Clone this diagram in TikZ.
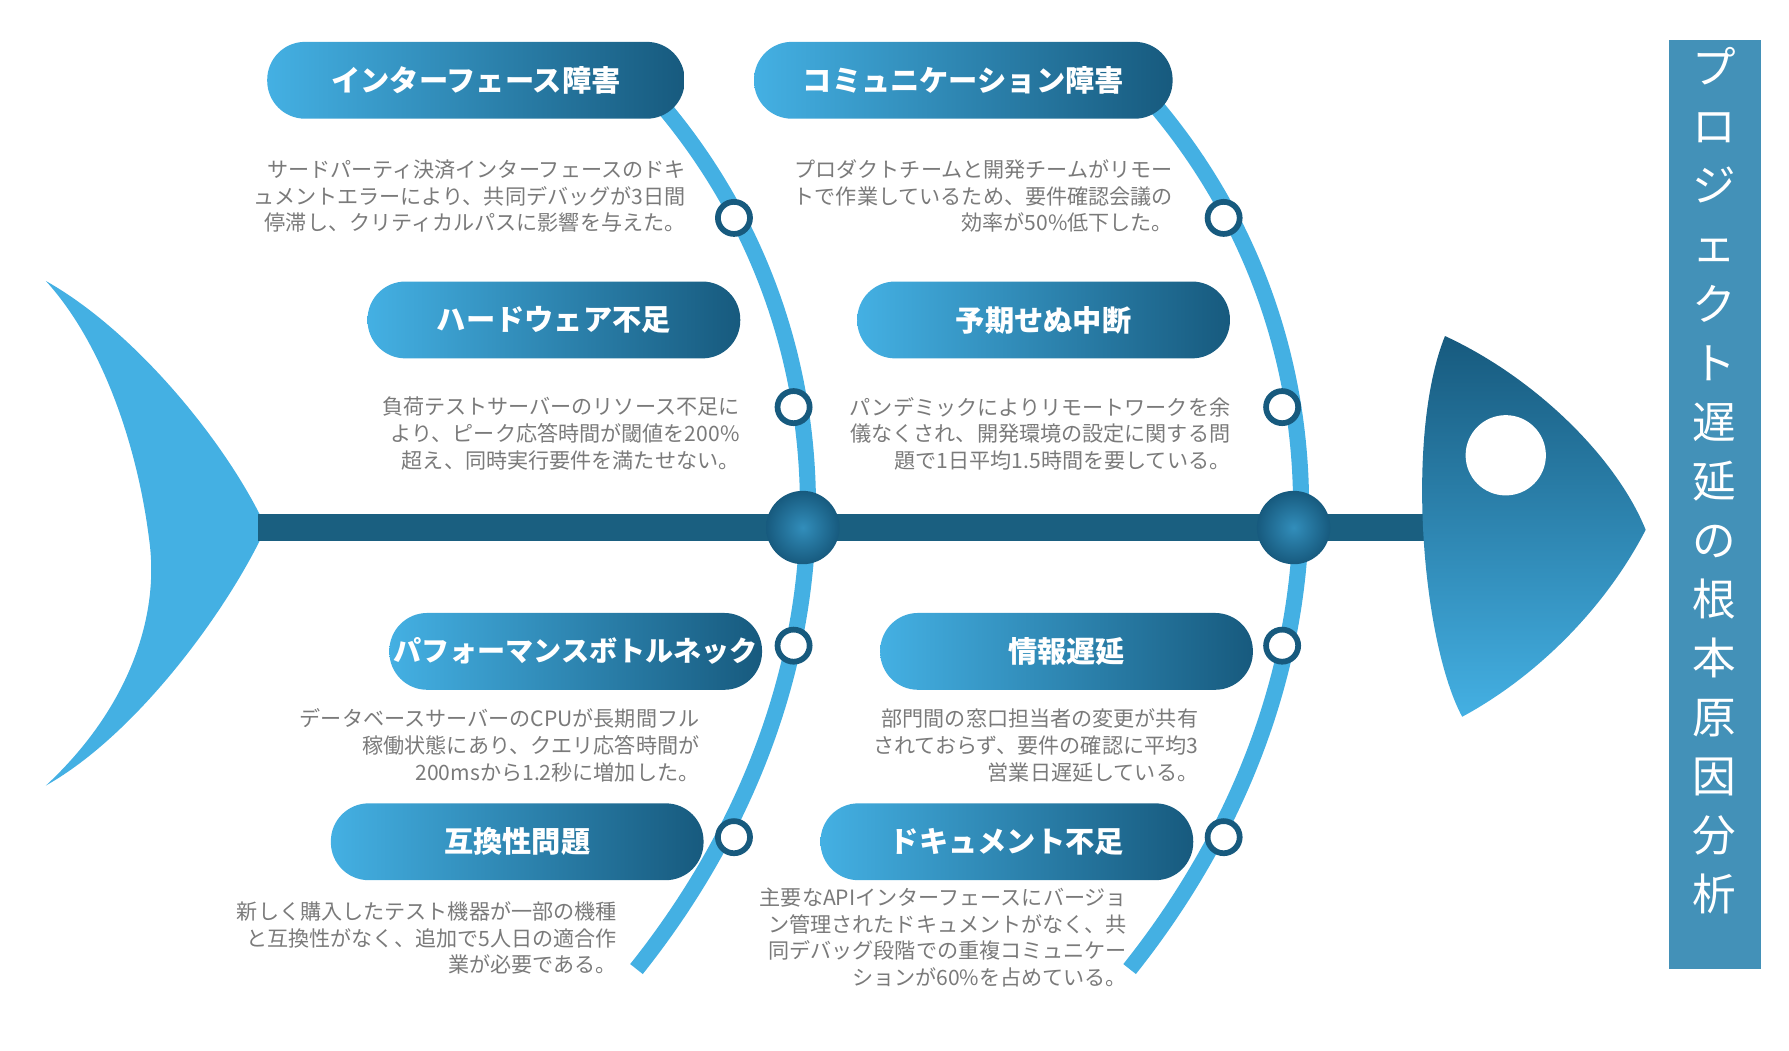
\documentclass[tikz,border=0pt]{standalone}
\usepackage{fontspec}
\setmainfont{Noto Sans CJK JP}
\usetikzlibrary{shapes.geometric}
\definecolor{lb}{HTML}{44B0E3}
\definecolor{db}{HTML}{175A7E}
\definecolor{spine}{HTML}{1A5F80}
\definecolor{bar}{HTML}{4391B8}
\definecolor{gt}{HTML}{7A7A7A}
\begin{document}
\begin{tikzpicture}[x=1pt,y=-1pt,
 pill/.style={rectangle,rounded corners=33pt,left color=lb,right color=db,draw=none,text=white,font=\bfseries\fontsize{25.5}{30}\selectfont,minimum height=67pt,inner sep=0pt},
 desc/.style={anchor=north east,align=right,text=gt,font=\fontsize{18.4}{23.3}\selectfont,inner sep=0pt},
 ring/.style={circle,draw=db,line width=5pt,fill=white,minimum size=28pt,inner sep=0pt},
 joint/.style={circle,inner color=lb!60!db,outer color=db,minimum size=64pt,inner sep=0pt},
 bone/.style={draw=lb,line width=14pt}]
\useasboundingbox (0,0) rectangle (1560,916);
% tail
\fill[lb] (40,245) .. controls (120,290) and (200,390) .. (232,460) .. controls (200,530) and (120,640) .. (40,685) .. controls (110,620) and (140,540) .. (130,470) .. controls (120,390) and (90,300) .. (40,245) -- cycle;
% spine
\coordinate (sL) at (225,460); \coordinate (sR) at (1245,460);
\draw[spine,line width=24pt] (sL) -- (sR);
% head
\shade[top color=db,bottom color=lb] (1260,293) .. controls (1340,330) and (1410,400) .. (1435,462) .. controls (1400,530) and (1340,590) .. (1275,625) .. controls (1240,560) and (1225,380) .. (1260,293) -- cycle;
\node[circle,fill=white,minimum size=70pt] (eye) at (1313,397) {};
% bones
\draw[bone] (555,845) .. controls (750,600) and (750,300) .. (580,95);
\draw[bone] (985,845) .. controls (1180,600) and (1180,300) .. (1010,95);
\node[joint] (j1) at (700,460) {};
\node[joint] (j2) at (1128,460) {};
% rings
\foreach \n/\x/\y in {r1/640/190,r2/692/355,r3/692/563,r4/640/730,r5/1067/190,r6/1118/355,r7/1118/563,r8/1067/730}
  \node[ring] (\n) at (\x,\y) {};
% pills
\node[pill,minimum width=364pt] (p1) at (415,70) {インターフェース障害};
\node[pill,minimum width=365pt] (p2) at (840,70) {コミュニケーション障害};
\node[pill,minimum width=325pt] (p3) at (483,279) {ハードウェア不足};
\node[pill,minimum width=325pt] (p4) at (910,279) {予期せぬ中断};
\node[pill,minimum width=325pt] (p5) at (502,568) {\fontsize{24.5}{30}\selectfont パフォーマンスボトルネック};
\node[pill,minimum width=325pt] (p6) at (930,568) {情報遅延};
\node[pill,minimum width=325pt] (p7) at (451,734) {互換性問題};
\node[pill,minimum width=325pt] (p8) at (878,734) {ドキュメント不足};
% descriptions
\node[desc] (d1) at (598,139) {サードパーティ決済インターフェースのドキ\\ュメントエラーにより、共同デバッグが3日間\\停滞し、クリティカルパスに影響を与えた。};
\node[desc] (d2) at (1023,139) {プロダクトチームと開発チームがリモー\\トで作業しているため、要件確認会議の\\効率が50\%低下した。};
\node[desc] (d3) at (645,346) {負荷テストサーバーのリソース不足に\\より、ピーク応答時間が閾値を200\%\\超え、同時実行要件を満たせない。};
\node[desc] (d4) at (1073,346) {パンデミックによりリモートワークを余\\儀なくされ、開発環境の設定に関する問\\題で1日平均1.5時間を要している。};
\node[desc] (d5) at (610,618) {データベースサーバーのCPUが長期間フル\\稼働状態にあり、クエリ応答時間が\\200msから1.2秒に増加した。};
\node[desc] (d6) at (1045,618) {部門間の窓口担当者の変更が共有\\されておらず、要件の確認に平均3\\営業日遅延している。};
\node[desc] (d7) at (538,786) {新しく購入したテスト機器が一部の機種\\と互換性がなく、追加で5人日の適合作\\業が必要である。};
\node[desc] (d8) at (983,774) {主要なAPIインターフェースにバージョ\\ン管理されたドキュメントがなく、共\\同デバッグ段階での重複コミュニケー\\ションが60\%を占めている。};
% title bar
\node[fill=bar,minimum width=80pt,minimum height=810pt,anchor=north west,inner sep=0pt] (bar) at (1455,35) {};
\node[text=white,font=\fontsize{38}{51.5}\selectfont,align=center,anchor=north] (title) at (1495,38) {プ\\ロ\\ジ\\ェ\\ク\\ト\\遅\\延\\の\\根\\本\\原\\因\\分\\析};
\end{tikzpicture}
\end{document}
